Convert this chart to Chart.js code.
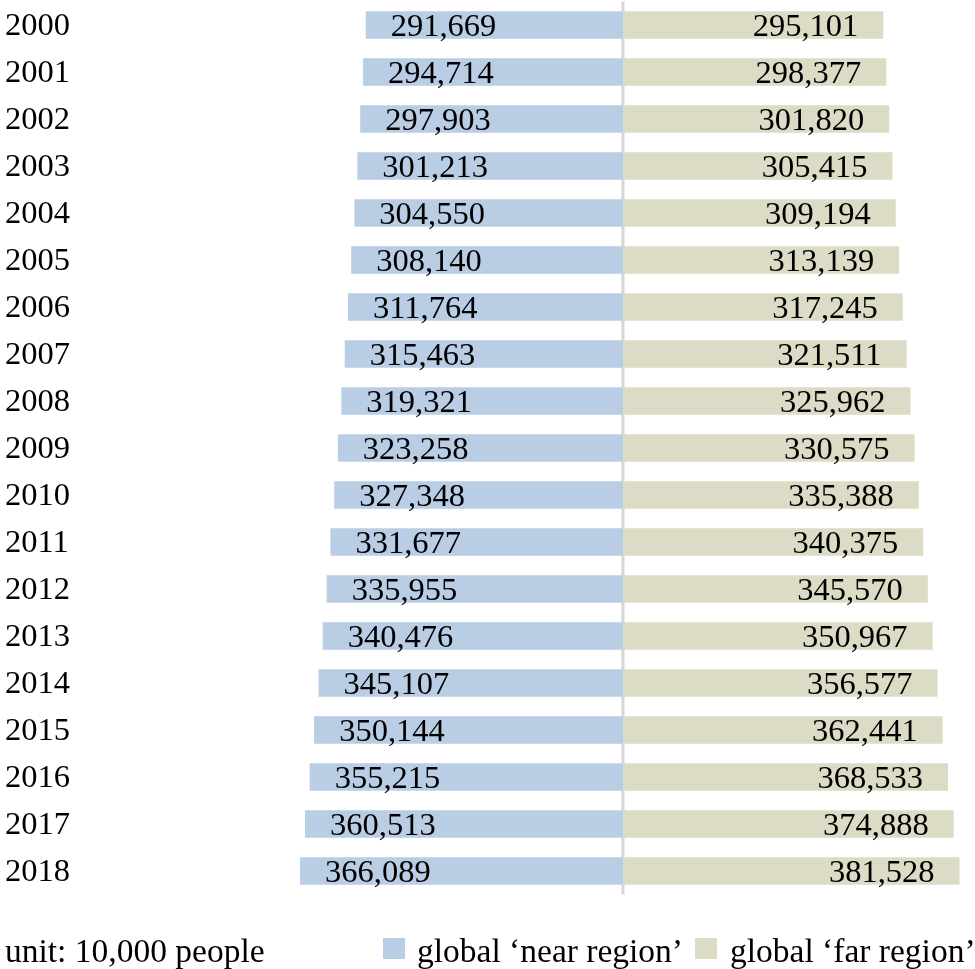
<!DOCTYPE html>
<html>
<head>
<meta charset="utf-8">
<script src="https://cdn.jsdelivr.net/npm/chart.js@4"></script>
<style>
  html, body { margin: 0; padding: 0; background: #ffffff; }
  #wrap { width: 975px; height: 969px; position: relative; }
</style>
</head>
<body>
<div id="wrap"><canvas id="c" width="975" height="969"></canvas></div>
<script>
const years = ['2000','2001','2002','2003','2004','2005','2006','2007','2008','2009','2010','2011','2012','2013','2014','2015','2016','2017','2018'];
const nearRegion = [291669,294714,297903,301213,304550,308140,311764,315463,319321,323258,327348,331677,335955,340476,345107,350144,355215,360513,366089];
const farRegion = [295101,298377,301820,305415,309194,313139,317245,321511,325962,330575,335388,340375,345570,350967,356577,362441,368533,374888,381528];
const seriesNames = ['global \u2018near region\u2019', 'global \u2018far region\u2019'];
const unitNote = 'unit: 10,000 people';

const FONT = '"Liberation Serif", "Times New Roman", serif';
const BLUE = '#B9CDE5';
const TAN = '#DCDBC5';

const labelPlugin = {
  id: 'barLabels',
  afterDatasetsDraw(chart) {
    const ctx = chart.ctx;
    ctx.save();
    ctx.font = '32.5px ' + FONT;
    ctx.fillStyle = '#000';
    ctx.textBaseline = 'alphabetic';
    chart.data.datasets.forEach((ds, di) => {
      const meta = chart.getDatasetMeta(di);
      meta.data.forEach((bar, i) => {
        const txt = Math.abs(ds.data[i]).toLocaleString('en-US');
        if (ds.data[i] < 0) {
          ctx.textAlign = 'left';
          ctx.fillText(txt, bar.x + 25, bar.y + 11);
        } else {
          ctx.textAlign = 'right';
          ctx.fillText(txt, bar.x - 25, bar.y + 11);
        }
      });
    });
    ctx.restore();
  },
  beforeDatasetsDraw(chart) {
    const ctx = chart.ctx;
    const x0 = chart.scales.x.getPixelForValue(0);
    ctx.save();
    ctx.strokeStyle = '#D6D6D6';
    ctx.lineWidth = 3;
    ctx.beginPath();
    ctx.moveTo(x0, chart.chartArea.top);
    ctx.lineTo(x0, chart.chartArea.bottom);
    ctx.stroke();
    ctx.restore();
  },
  afterDraw(chart) {
    const ctx = chart.ctx;
    ctx.save();
    ctx.font = '33.5px ' + FONT;
    ctx.fillStyle = '#000';
    ctx.textBaseline = 'alphabetic';
    ctx.textAlign = 'left';
    const base = 962;
    ctx.fillText(unitNote, 5, base);
    const items = [
      { color: BLUE, box: 383, text: 417, label: seriesNames[0] },
      { color: TAN, box: 695, text: 730, label: seriesNames[1] }
    ];
    items.forEach(it => {
      ctx.fillStyle = it.color;
      ctx.fillRect(it.box, 938, 22, 21);
      ctx.fillStyle = '#000';
      ctx.fillText(it.label, it.text, base);
    });
    ctx.restore();
  }
};

new Chart(document.getElementById('c'), {
  type: 'bar',
  data: {
    labels: years,
    datasets: [
      { label: seriesNames[0], data: nearRegion.map(v => -v), backgroundColor: BLUE, borderWidth: 0, barPercentage: 0.59, categoryPercentage: 1 },
      { label: seriesNames[1], data: farRegion, backgroundColor: TAN, borderWidth: 0, barPercentage: 0.59, categoryPercentage: 1 }
    ]
  },
  options: {
    indexAxis: 'y',
    responsive: false,
    animation: false,
    devicePixelRatio: 1,
    layout: { padding: { top: 1.5, bottom: 74.5, left: 5, right: 5 } },
    plugins: { legend: { display: false }, tooltip: { enabled: false } },
    scales: {
      x: {
        stacked: true,
        display: false,
        min: -615600,
        max: 393400
      },
      y: {
        stacked: true,
        grid: { display: false },
        border: { display: false },
        afterFit(scale) { scale.width = 75; scale.paddingTop = 0; scale.paddingBottom = 0; },
        ticks: {
          crossAlign: 'far',
          color: '#000',
          padding: 0,
          labelOffset: 1.5,
          font: { family: FONT, size: 32.5 }
        }
      }
    }
  },
  plugins: [labelPlugin]
});
</script>
</body>
</html>
